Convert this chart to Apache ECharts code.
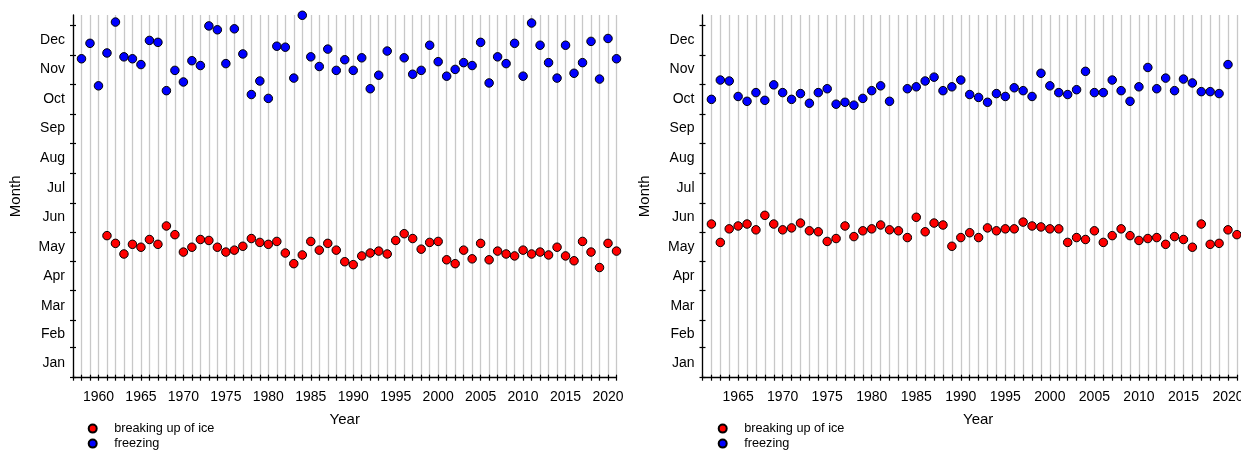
<!DOCTYPE html>
<html>
<head>
<meta charset="utf-8">
<script src="https://cdn.jsdelivr.net/npm/echarts@6/dist/echarts.min.js"></script>
<style>
  html, body { margin: 0; padding: 0; background: #fff; }
  #chart { width: 1241px; height: 450px; }
</style>
</head>
<body>
<div id="chart"></div>
<script>
// Ice phenology: day of year (0 = 1 Jan) of ice break-up and freeze-up, two stations.
const leftFreezeYears = [];
for (let y = 1958; y <= 2021; y++) leftFreezeYears.push(y);
const leftFreeze = [330, 346, 302, 336, 368, 332, 330, 324, 349, 347, 297, 318, 306, 328, 323, 364,
  360, 325, 361, 335, 293, 307, 289, 343, 342, 310, 375, 332, 322, 340, 318, 329, 318, 331, 299, 313,
  338, null, 331, 314, 318, 344, 327, 312, 319, 326, 323, 347, 305, 332, 325, 346, 312, 367, 344, 326,
  310, 344, 315, 326, 348, 309, 351, 330];

const leftBreakYears = [];
for (let y = 1961; y <= 2021; y++) leftBreakYears.push(y);
const leftBreak = [147, 139, 128, 138, 135, 143, 138, 157, 148, 130, 135, 143, 142, 135, 130, 132,
  136, 144, 140, 138, 141, 129, 118, 127, 141, 132, 139, 132, 120, 117, 126, 129, 131, 128, 142, 149,
  144, 133, 140, 141, 122, 118, 132, 123, 139, 122, 131, 128, 126, 132, 128, 130, 127, 135, 126, 121,
  141, 130, 114, 139, 131];

const rightYears = [];
for (let y = 1962; y <= 2021; y++) rightYears.push(y);
const rightFreeze = [288, 308, 307, 291, 286, 295, 287, 303, 295, 288, 294, 284, 295, 299, 283, 285,
  282, 289, 297, 302, 286, null, 299, 301, 307, 311, 297, 301, 308, 293, 290, 285, 294, 291, 300, 297,
  291, 315, 302, 295, 293, 298, 317, 295, 295, 308, 297, 286, 301, 321, 299, 310, 297, 309, 305, 296,
  296, 294, 324, null];
const rightBreak = [159, 140, 154, 157, 159, 153, 168, 159, 153, 155, 160, 152, 151, 141, 144, 157,
  146, 152, 154, 158, 153, 152, 145, 166, 151, 160, 158, 136, 145, 150, 145, 155, 152, 154, 154, 161,
  157, 156, 154, 154, 140, 145, 143, 152, 140, 147, 154, 147, 142, 144, 145, 138, 146, 143, 135, 159,
  138, 139, 153, 148];

const monthNames = ['Jan', 'Feb', 'Mar', 'Apr', 'May', 'Jun', 'Jul', 'Aug', 'Sep', 'Oct', 'Nov', 'Dec'];
const monthStarts = [0, 31, 59, 90, 120, 151, 181, 212, 243, 273, 304, 334, 365];
const monthMids = monthNames.map((m, i) => (monthStarts[i] + monthStarts[i + 1]) / 2);
const leftYearLabels = [1960, 1965, 1970, 1975, 1980, 1985, 1990, 1995, 2000, 2005, 2010, 2015, 2020];
const rightYearLabels = [1965, 1970, 1975, 1980, 1985, 1990, 1995, 2000, 2005, 2010, 2015, 2020];

const seriesNames = ['breaking up of ice', 'freezing'];
const seriesColors = ['#ff0000', '#0000ff'];

const FONT = 'Liberation Sans, Arial, sans-serif';
const pairs = (xs, vs) => xs.map((x, i) => [x, vs[i]]).filter(p => p[1] !== null);

const panels = [
  { left: 73, width: 543.5, min: 1957, labels: leftYearLabels, legendLeft: 87.7, namePad: 0 },
  { left: 702.5, width: 534.4, min: 1961, labels: rightYearLabels, legendLeft: 717.7, namePad: 17 }
];

const grids = [], xAxes = [], yAxes = [], legends = [];
panels.forEach((p, gi) => {
  grids.push({ left: p.left, top: 15, width: p.width, height: 362.7, outerBoundsMode: 'none', containLabel: false });
  // main x axis: line, outward ticks, labels, year grid lines
  xAxes.push({
    gridIndex: gi, type: 'value', position: 'bottom', min: p.min, max: 2021, interval: 1,
    name: 'Year', nameLocation: 'middle', nameGap: 35,
    nameTextStyle: { fontFamily: FONT, fontSize: 15, color: '#000', padding: [0, 0, 0, p.namePad] },
    axisLine: { show: true, onZero: false, lineStyle: { color: '#000', width: 1.3 } },
    axisTick: { show: true, inside: false, length: 3, lineStyle: { color: '#000', width: 1.2 } },
    axisLabel: { show: true, customValues: p.labels, margin: 12, fontFamily: FONT, fontSize: 14, color: '#000',
      formatter: v => String(v) },
    splitLine: { show: true, lineStyle: { color: '#c8c8c8', width: 1.3 } }
  });
  // overlay x axis: inward half of the crossing ticks
  xAxes.push({
    gridIndex: gi, type: 'value', position: 'bottom', min: p.min, max: 2021, interval: 1,
    axisLine: { show: false }, axisLabel: { show: false }, splitLine: { show: false },
    axisTick: { show: true, inside: true, length: 3, lineStyle: { color: '#000', width: 1.2 } }
  });
  yAxes.push({
    gridIndex: gi, type: 'value', position: 'left', min: 0, max: 375.3,
    name: 'Month', nameLocation: 'middle', nameGap: 50, nameRotate: 90,
    nameTextStyle: { fontFamily: FONT, fontSize: 15, color: '#000' },
    axisLine: { show: true, onZero: false, lineStyle: { color: '#000', width: 1.3 } },
    axisTick: { show: true, inside: false, length: 3, customValues: monthStarts, lineStyle: { color: '#000', width: 1.2 } },
    axisLabel: { show: true, customValues: monthMids, margin: 8, fontFamily: FONT, fontSize: 14, color: '#000',
      formatter: v => monthNames[monthMids.indexOf(v)] },
    splitLine: { show: false }
  });
  yAxes.push({
    gridIndex: gi, type: 'value', position: 'left', min: 0, max: 375.3,
    axisLine: { show: false }, axisLabel: { show: false }, splitLine: { show: false },
    axisTick: { show: true, inside: true, length: 3, customValues: monthStarts, lineStyle: { color: '#000', width: 1.2 } }
  });
  // one legend box per entry so the two rows stack exactly
  seriesNames.forEach((name, si) => {
    legends.push({
      orient: 'vertical', left: p.legendLeft, top: 421.1 + si * 15, padding: 0, itemGap: 0,
      itemWidth: 33, itemHeight: 8, icon: 'circle', selectedMode: false,
      textStyle: { fontFamily: FONT, fontSize: 12.7, color: '#000', lineHeight: 15 },
      data: [name]
    });
  });
});

const makeSeries = (name, ci, data, axisIdx) => ({
  name, type: 'scatter', xAxisIndex: axisIdx * 2, yAxisIndex: axisIdx * 2, data,
  symbol: 'circle', symbolSize: 8.5, clip: false,
  itemStyle: { color: seriesColors[ci], borderColor: '#000', borderWidth: 1, opacity: 1 },
  emphasis: { disabled: true }
});

const chart = echarts.init(document.getElementById('chart'), null, { renderer: 'canvas' });
chart.setOption({
  animation: false,
  backgroundColor: '#fff',
  grid: grids,
  xAxis: xAxes,
  yAxis: yAxes,
  legend: legends,
  series: [
    makeSeries(seriesNames[0], 0, pairs(leftBreakYears, leftBreak), 0),
    makeSeries(seriesNames[1], 1, pairs(leftFreezeYears, leftFreeze), 0),
    makeSeries(seriesNames[0], 0, pairs(rightYears, rightBreak), 1),
    makeSeries(seriesNames[1], 1, pairs(rightYears, rightFreeze), 1)
  ]
});
</script>
</body>
</html>
